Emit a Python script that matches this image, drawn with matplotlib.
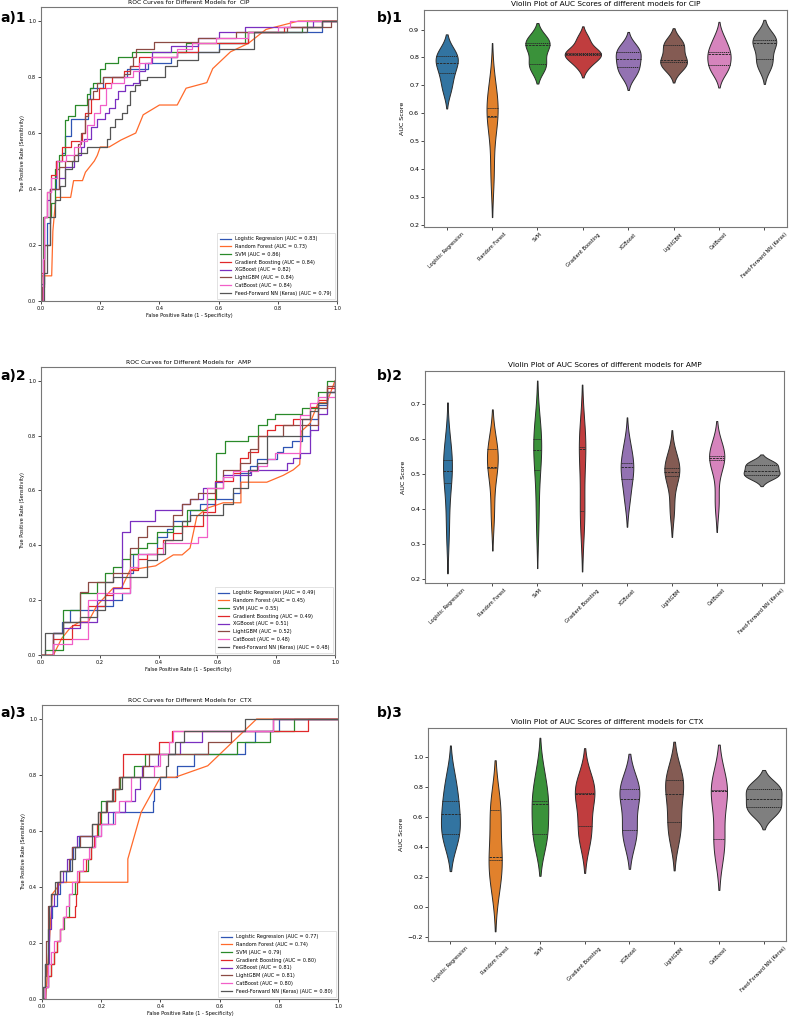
"""ROC curves and AUC violin plots for CIP, AMP and CTX."""

import matplotlib

matplotlib.use("Agg")
import matplotlib.pyplot as plt
import pandas as pd
import seaborn as sns
from matplotlib.collections import PolyCollection

models = ["Logistic Regression", "Random Forest", "SVM", "Gradient Boosting",
          "XGBoost", "LightGBM", "CatBoost", "Feed-Forward NN (Keras)"]

cip_auc = [0.83, 0.73, 0.86, 0.84, 0.82, 0.84, 0.84, 0.79]
amp_auc = [0.49, 0.45, 0.55, 0.49, 0.51, 0.52, 0.48, 0.48]
ctx_auc = [0.77, 0.74, 0.79, 0.80, 0.81, 0.81, 0.80, 0.80]

# ROC points per model (same order as models)
cip_fpr = [
    [0, 0, 0.01, 0.02, 0.03, 0.05, 0.07, 0.08, 0.10, 0.16, 0.165, 0.21, 0.29, 0.36, 0.44, 0.46, 0.60, 0.70, 0.95, 1.0],
    [0, 0.003, 0.013, 0.036, 0.04, 0.05, 0.10, 0.11, 0.14, 0.15, 0.18, 0.19, 0.20, 0.23, 0.27, 0.30, 0.32, 0.345,
     0.40, 0.46, 0.49, 0.56, 0.58, 0.64, 0.70, 0.76, 0.87, 1.0],
    [0, 0.006, 0.035, 0.047, 0.06, 0.081, 0.09, 0.115, 0.154, 0.166, 0.177, 0.20, 0.216, 0.261, 0.306, 0.49, 0.69,
     0.88, 0.90, 1.0],
    [0, 0.0, 0.01, 0.02, 0.035, 0.05, 0.07, 0.1, 0.14, 0.15, 0.17, 0.195, 0.215, 0.24, 0.28, 0.30, 0.33, 0.46, 0.53,
     0.70, 0.82, 0.95, 1.0],
    [0, 0.005, 0.01, 0.02, 0.03, 0.06, 0.08, 0.11, 0.135, 0.145, 0.17, 0.19, 0.215, 0.23, 0.25, 0.26, 0.285, 0.31,
     0.33, 0.35, 0.375, 0.44, 0.53, 0.6, 0.69, 0.92, 1.0],
    [0, 0.003, 0.01, 0.03, 0.06, 0.08, 0.11, 0.125, 0.135, 0.15, 0.16, 0.175, 0.19, 0.21, 0.28, 0.30, 0.31, 0.32,
     0.38, 0.53, 0.66, 0.83, 0.98, 1.0],
    [0, 0.005, 0.01, 0.02, 0.035, 0.055, 0.085, 0.11, 0.13, 0.155, 0.18, 0.2, 0.22, 0.235, 0.28, 0.31, 0.33, 0.37,
     0.46, 0.51, 0.59, 0.70, 0.80, 0.84, 1.0],
    [0, 0.01, 0.02, 0.03, 0.047, 0.064, 0.081, 0.104, 0.126, 0.154, 0.222, 0.233, 0.25, 0.272, 0.29, 0.30, 0.317,
     0.334, 0.357, 0.42, 0.46, 0.53, 0.60, 0.72, 0.90, 0.95, 1.0],
]
cip_tpr = [
    [0, 0.06, 0.2, 0.28, 0.4, 0.5, 0.53, 0.59, 0.65, 0.72, 0.76, 0.80, 0.83, 0.85, 0.87, 0.89, 0.92, 0.96, 1.0, 1.0],
    [0, 0.09, 0.09, 0.09, 0.25, 0.37, 0.37, 0.43, 0.43, 0.46, 0.50, 0.52, 0.55, 0.55, 0.575, 0.59, 0.60, 0.665,
     0.70, 0.70, 0.76, 0.78, 0.83, 0.89, 0.92, 0.97, 1.0, 1.0],
    [0, 0.30, 0.35, 0.47, 0.52, 0.645, 0.66, 0.70, 0.74, 0.76, 0.78, 0.83, 0.85, 0.87, 0.89, 0.92, 0.96, 0.98,
     1.0, 1.0],
    [0, 0.1, 0.3, 0.39, 0.45, 0.5, 0.55, 0.57, 0.6, 0.67, 0.72, 0.76, 0.78, 0.80, 0.82, 0.84, 0.87, 0.89, 0.92,
     0.96, 0.98, 1.0, 1.0],
    [0, 0.15, 0.3, 0.36, 0.40, 0.44, 0.48, 0.52, 0.55, 0.58, 0.62, 0.65, 0.67, 0.69, 0.72, 0.75, 0.77, 0.78, 0.82,
     0.85, 0.89, 0.91, 0.94, 0.96, 0.98, 1.0, 1.0],
    [0, 0.05, 0.2, 0.4, 0.48, 0.5, 0.52, 0.56, 0.6, 0.66, 0.72, 0.75, 0.78, 0.80, 0.81, 0.84, 0.87, 0.90, 0.925,
     0.94, 0.96, 0.98, 1.0, 1.0],
    [0, 0.15, 0.3, 0.39, 0.44, 0.5, 0.52, 0.55, 0.57, 0.63, 0.67, 0.70, 0.76, 0.78, 0.80, 0.82, 0.85, 0.87, 0.90,
     0.92, 0.94, 0.96, 0.98, 1.0, 1.0],
    [0, 0.1, 0.2, 0.3, 0.36, 0.41, 0.47, 0.50, 0.53, 0.55, 0.58, 0.62, 0.65, 0.67, 0.70, 0.75, 0.77, 0.79, 0.80,
     0.84, 0.86, 0.89, 0.90, 0.96, 0.98, 1.0, 1.0],
]

amp_fpr = [
    [0, 0.042, 0.071, 0.099, 0.190, 0.246, 0.274, 0.303, 0.314, 0.393, 0.428, 0.450, 0.507, 0.541, 0.592, 0.654,
     0.677, 0.711, 0.733, 0.801, 0.824, 0.855, 0.887, 0.915, 0.943, 0.972, 1.0],
    [0, 0.042, 0.07, 0.10, 0.13, 0.16, 0.19, 0.246, 0.274, 0.303, 0.39, 0.45, 0.48, 0.507, 0.53, 0.564, 0.62,
     0.68, 0.68, 0.768, 0.824, 0.858, 0.88, 0.885, 0.915, 0.943, 0.972, 1.0],
    [0, 0.014, 0.076, 0.133, 0.19, 0.218, 0.246, 0.274, 0.303, 0.331, 0.359, 0.393, 0.45, 0.495, 0.564, 0.595,
     0.626, 0.705, 0.739, 0.768, 0.796, 0.887, 0.943, 0.972, 1.0],
    [0, 0.042, 0.105, 0.133, 0.16, 0.218, 0.246, 0.303, 0.331, 0.359, 0.393, 0.416, 0.45, 0.478, 0.552, 0.592,
     0.654, 0.677, 0.705, 0.739, 0.768, 0.796, 0.858, 0.915, 0.943, 0.972, 1.0],
    [0, 0.042, 0.076, 0.133, 0.19, 0.246, 0.274, 0.303, 0.388, 0.48, 0.507, 0.552, 0.592, 0.62, 0.715, 0.835,
     0.858, 0.882, 0.915, 0.943, 0.972, 1.0],
    [0, 0.042, 0.076, 0.133, 0.161, 0.246, 0.303, 0.331, 0.359, 0.450, 0.478, 0.507, 0.535, 0.592, 0.620, 0.677,
     0.711, 0.739, 0.824, 0.943, 0.972, 1.0],
    [0, 0.042, 0.104, 0.161, 0.19, 0.303, 0.331, 0.416, 0.535, 0.564, 0.620, 0.654, 0.739, 0.768, 0.796, 0.882,
     0.915, 0.943, 1.0],
    [0, 0.014, 0.076, 0.133, 0.19, 0.218, 0.246, 0.359, 0.393, 0.422, 0.478, 0.507, 0.62, 0.654, 0.705, 0.733,
     0.768, 0.887, 0.915, 0.943, 0.972, 1.0],
]
amp_tpr = [
    [0, 0.08, 0.12, 0.165, 0.18, 0.20, 0.226, 0.30, 0.37, 0.43, 0.46, 0.49, 0.53, 0.55, 0.57, 0.59, 0.665, 0.69,
     0.715, 0.74, 0.76, 0.78, 0.80, 0.86, 0.91, 0.96, 1.0],
    [0, 0, 0.06, 0.10, 0.12, 0.12, 0.18, 0.245, 0.245, 0.31, 0.325, 0.365, 0.365, 0.39, 0.505, 0.535, 0.555, 0.555,
     0.63, 0.63, 0.655, 0.675, 0.695, 0.815, 0.845, 0.92, 0.92, 1.0],
    [0.0, 0.02, 0.163, 0.226, 0.265, 0.30, 0.32, 0.35, 0.37, 0.39, 0.41, 0.45, 0.47, 0.53, 0.57, 0.735, 0.78, 0.80,
     0.84, 0.86, 0.88, 0.90, 0.96, 1.0, 1.0],
    [0, 0.06, 0.11, 0.12, 0.18, 0.22, 0.245, 0.31, 0.35, 0.37, 0.39, 0.42, 0.445, 0.47, 0.52, 0.635, 0.665, 0.72,
     0.74, 0.80, 0.82, 0.84, 0.86, 0.905, 0.93, 0.975, 1.0],
    [0, 0.08, 0.10, 0.12, 0.20, 0.245, 0.45, 0.49, 0.53, 0.55, 0.57, 0.61, 0.63, 0.655, 0.675, 0.70, 0.72, 0.735,
     0.82, 0.88, 0.96, 1.0],
    [0, 0.08, 0.12, 0.23, 0.265, 0.30, 0.39, 0.43, 0.47, 0.51, 0.55, 0.57, 0.59, 0.61, 0.675, 0.70, 0.75, 0.80,
     0.84, 0.90, 0.98, 1.0],
    [0, 0.04, 0.06, 0.20, 0.225, 0.32, 0.37, 0.41, 0.43, 0.61, 0.65, 0.67, 0.69, 0.715, 0.735, 0.875, 0.92, 0.94,
     1.0],
    [0, 0.08, 0.12, 0.14, 0.165, 0.265, 0.285, 0.345, 0.37, 0.42, 0.49, 0.51, 0.55, 0.61, 0.675, 0.70, 0.80, 0.86,
     0.89, 0.92, 0.96, 1.0],
]

ctx_fpr = [
    [0, 0.005, 0.01, 0.02, 0.025, 0.035, 0.05, 0.06, 0.08, 0.095, 0.105, 0.125, 0.19, 0.24, 0.375, 0.38, 0.40,
     0.455, 0.515, 0.685, 0.72, 0.80, 1.0],
    [0, 0.012, 0.02, 0.035, 0.065, 0.29, 0.29, 0.335, 0.40, 0.45, 0.56, 0.725, 1.0],
    [0, 0.01, 0.02, 0.03, 0.04, 0.05, 0.06, 0.075, 0.09, 0.11, 0.125, 0.155, 0.165, 0.18, 0.19, 0.20, 0.245, 0.265,
     0.31, 0.347, 0.66, 0.77, 0.853, 1.0],
    [0, 0.01, 0.02, 0.03, 0.04, 0.05, 0.06, 0.07, 0.11, 0.115, 0.12, 0.125, 0.15, 0.165, 0.175, 0.185, 0.195, 0.215,
     0.245, 0.26, 0.275, 0.395, 0.44, 0.90, 1.0],
    [0, 0.01, 0.02, 0.025, 0.03, 0.04, 0.055, 0.07, 0.085, 0.10, 0.12, 0.14, 0.20, 0.224, 0.28, 0.314, 0.33, 0.337,
     0.393, 0.465, 0.54, 0.78, 1.0],
    [0, 0.01, 0.015, 0.02, 0.03, 0.05, 0.06, 0.09, 0.10, 0.13, 0.17, 0.19, 0.22, 0.235, 0.26, 0.34, 0.36, 0.56,
     0.64, 0.78, 1.0],
    [0, 0.01, 0.02, 0.03, 0.04, 0.06, 0.07, 0.08, 0.09, 0.10, 0.12, 0.14, 0.16, 0.18, 0.20, 0.245, 0.26, 0.30,
     0.38, 0.40, 0.43, 0.444, 0.78, 1.0],
    [0, 0.005, 0.01, 0.02, 0.025, 0.03, 0.045, 0.06, 0.065, 0.10, 0.11, 0.17, 0.19, 0.215, 0.24, 0.27, 0.42,
     0.425, 0.45, 0.48, 0.685, 1.0],
]
ctx_tpr = [
    [0, 0.042, 0.125, 0.208, 0.29, 0.333, 0.375, 0.417, 0.458, 0.50, 0.542, 0.583, 0.625, 0.667, 0.708, 0.75,
     0.792, 0.833, 0.875, 0.917, 0.958, 1.0, 1.0],
    [0, 0, 0.125, 0.375, 0.417, 0.417, 0.50, 0.667, 0.792, 0.792, 0.833, 1.0, 1.0],
    [0, 0.042, 0.083, 0.125, 0.167, 0.208, 0.25, 0.292, 0.375, 0.417, 0.458, 0.5, 0.542, 0.583, 0.625, 0.708,
     0.75, 0.792, 0.833, 0.875, 0.917, 0.958, 1.0, 1.0],
    [0, 0.042, 0.083, 0.125, 0.167, 0.208, 0.25, 0.292, 0.333, 0.375, 0.417, 0.458, 0.5, 0.542, 0.583, 0.625,
     0.667, 0.708, 0.75, 0.792, 0.875, 0.917, 0.958, 1.0, 1.0],
    [0, 0.042, 0.125, 0.25, 0.333, 0.375, 0.417, 0.458, 0.5, 0.542, 0.583, 0.583, 0.625, 0.667, 0.708, 0.75,
     0.792, 0.833, 0.875, 0.917, 0.958, 1.0, 1.0],
    [0, 0.083, 0.208, 0.333, 0.375, 0.417, 0.458, 0.5, 0.542, 0.583, 0.625, 0.667, 0.708, 0.75, 0.792, 0.833,
     0.875, 0.917, 0.958, 1.0, 1.0],
    [0, 0.042, 0.125, 0.167, 0.208, 0.25, 0.292, 0.333, 0.375, 0.417, 0.458, 0.5, 0.542, 0.583, 0.625, 0.667,
     0.708, 0.792, 0.833, 0.875, 0.917, 0.958, 1.0, 1.0],
    [0, 0.042, 0.125, 0.25, 0.333, 0.375, 0.417, 0.458, 0.458, 0.5, 0.542, 0.625, 0.667, 0.708, 0.75, 0.792,
     0.833, 0.875, 0.917, 0.958, 1.0, 1.0],
]

# per-fold AUC scores behind the violins
cip_scores = [
    [0.69, 0.743, 0.781, 0.806, 0.81],
    [0.39, 0.585, 0.59, 0.62, 0.69],
    [0.77, 0.775, 0.845, 0.85, 0.86],
    [0.775, 0.81, 0.813, 0.816, 0.865],
    [0.74, 0.765, 0.793, 0.82, 0.835],
    [0.765, 0.783, 0.792, 0.843, 0.85],
    [0.755, 0.772, 0.812, 0.82, 0.865],
    [0.77, 0.793, 0.85, 0.862, 0.87],
]
amp_scores = [
    [0.345, 0.474, 0.508, 0.54, 0.575],
    [0.39, 0.516, 0.519, 0.571, 0.575],
    [0.375, 0.511, 0.569, 0.60, 0.622],
    [0.378, 0.395, 0.572, 0.575, 0.598],
    [0.43, 0.486, 0.519, 0.531, 0.58],
    [0.40, 0.493, 0.505, 0.516, 0.545],
    [0.42, 0.54, 0.545, 0.55, 0.565],
    [0.49, 0.498, 0.508, 0.526, 0.53],
]
ctx_scores = [
    [0.47, 0.49, 0.622, 0.708, 0.85],
    [0.16, 0.314, 0.336, 0.648, 0.66],
    [0.46, 0.49, 0.688, 0.708, 0.88],
    [0.46, 0.543, 0.752, 0.765, 0.83],
    [0.48, 0.512, 0.725, 0.791, 0.80],
    [0.49, 0.567, 0.758, 0.851, 0.86],
    [0.40, 0.457, 0.774, 0.78, 0.80],
    [0.63, 0.666, 0.721, 0.791, 0.805],
]

roc_colors = ["#2f55b4", "#ff6a2b", "#2a8a2a", "#e0282a", "#7a2fc0", "#8c4a44", "#f25fc8", "#555555"]
violin_colors = sns.color_palette("tab10", desat=0.75)
FRAME = "#777777"


def style_frame(ax):
    for sp in ax.spines.values():
        sp.set_color(FRAME)
        sp.set_linewidth(0.8)


def roc_panel(ax, fpr, tpr, auc, name):
    for i, model in enumerate(models):
        ds = "default" if model == "Random Forest" else "steps-post"
        ax.plot(fpr[i], tpr[i], color=roc_colors[i], lw=0.9, drawstyle=ds,
                label=f"{model} (AUC = {auc[i]:.2f})")
    ax.set_xlim(0.0, 1.0)
    ax.set_ylim(0.0, 1.05)
    ax.set_xticks([0, 0.2, 0.4, 0.6, 0.8, 1.0])
    ax.set_yticks([0, 0.2, 0.4, 0.6, 0.8, 1.0])
    ax.tick_params(labelsize=3.6, length=2, width=0.5, pad=1.5)
    ax.set_xlabel("False Positive Rate (1 - Specificity)", fontsize=3.6, labelpad=1.5)
    ax.set_ylabel("True Positive Rate (Sensitivity)", fontsize=3.6, labelpad=2)
    ax.set_title(f"ROC Curves for Different Models for  {name}", fontsize=4.3, pad=2.5)
    leg = ax.legend(loc="lower right", fontsize=3.6, handlelength=2.2, frameon=True,
                    fancybox=False, borderpad=0.6, labelspacing=0.55)
    leg.get_frame().set_linewidth(0.5)
    style_frame(ax)


def violin_panel(ax, scores, name):
    rows = [(m, s) for m, vals in zip(models, scores) for s in vals]
    df = pd.DataFrame(rows, columns=["Model", "AUC"])
    # no hue, so the area scaling is shared by all violins; colour them afterwards
    sns.violinplot(data=df, x="Model", y="AUC", color=violin_colors[0], inner="quart",
                   linewidth=0.7, linecolor="#2b2b2b", ax=ax)
    polys = [c for c in ax.collections if isinstance(c, PolyCollection)]
    for poly, col in zip(polys, violin_colors):
        poly.set_facecolor(col)
    ax.set_xlabel("")
    ax.set_ylabel("AUC Score", fontsize=4.6, labelpad=3)
    ax.set_title(f"Violin Plot of AUC Scores of different models for {name}", fontsize=5.3, pad=3)
    ax.tick_params(axis="y", labelsize=4.6, length=2, width=0.5, pad=1.5)
    ax.tick_params(axis="x", labelsize=3.6, length=2, width=0.5, pad=1.5)
    plt.setp(ax.get_xticklabels(), rotation=45)
    style_frame(ax)


fig = plt.figure(figsize=(7.89, 10.16), dpi=100)

roc_boxes = [[0.052, 0.7037, 0.3752, 0.2894],
             [0.052, 0.3553, 0.3726, 0.2835],
             [0.0532, 0.0167, 0.3752, 0.2894]]
vio_boxes = [[0.5374, 0.7766, 0.4601, 0.2136],
             [0.5387, 0.4262, 0.4550, 0.2087],
             [0.5425, 0.0738, 0.4537, 0.2096]]

roc_data = [(cip_fpr, cip_tpr, cip_auc, "CIP"),
            (amp_fpr, amp_tpr, amp_auc, "AMP"),
            (ctx_fpr, ctx_tpr, ctx_auc, "CTX")]
vio_data = [(cip_scores, "CIP"), (amp_scores, "AMP"), (ctx_scores, "CTX")]

for k in range(3):
    ax = fig.add_axes(roc_boxes[k])
    roc_panel(ax, *roc_data[k])
    ax2 = fig.add_axes(vio_boxes[k])
    violin_panel(ax2, *vio_data[k])

label_y = [1 - 18 / 1016, 1 - 376 / 1016, 1 - 713 / 1016]
for k in range(3):
    fig.text(0.0, label_y[k], f"a){k + 1}", fontsize=10, fontweight="bold", va="center", ha="left")
    fig.text(377 / 789, label_y[k], f"b){k + 1}", fontsize=10, fontweight="bold", va="center", ha="left")

fig.savefig("out.png", dpi=100)
